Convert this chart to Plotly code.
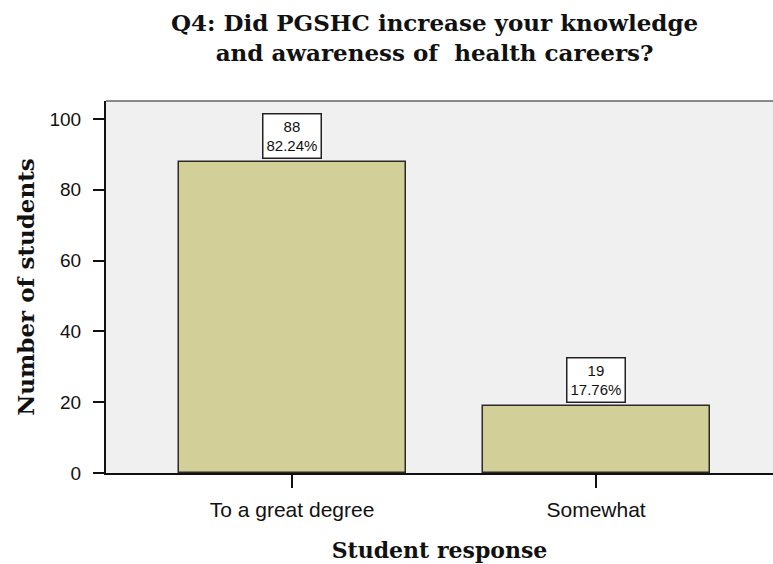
import plotly.graph_objects as go

categories = ["To a great degree", "Somewhat"]
counts = [88, 19]
percents = ["82.24%", "17.76%"]
title_text = "Q4: Did PGSHC increase your knowledge<br>and awareness of  health careers?"

fig = go.Figure()
fig.add_trace(go.Bar(
    x=[0, 1], y=counts, width=0.747,
    marker=dict(color="#d3cf98", line=dict(color="#2a2a2a", width=1.5)),
    hoverinfo="skip",
))

for i, (c, p) in enumerate(zip(counts, percents)):
    fig.add_annotation(
        x=i, y=c, xref="x", yref="y",
        text=f"{c}<br>{p}", showarrow=False, yanchor="bottom", yshift=3,
        font=dict(family="Arial", size=15, color="#111"),
        bgcolor="white", bordercolor="#222", borderwidth=1.5, borderpad=3,
        align="center",
    )

serif = "DejaVu Serif"

fig.add_annotation(
    text=title_text, xref="paper", yref="paper", x=0.493, y=1.172,
    xanchor="center", yanchor="middle", showarrow=False, align="center",
    font=dict(family=serif, size=23, color="#111", weight="bold"),
)

fig.update_layout(
    width=773, height=564,
    margin=dict(l=106, r=0, t=101, b=91),
    paper_bgcolor="white", plot_bgcolor="#f0f0f0",
    showlegend=False,
    bargap=0,
    xaxis=dict(
        tickmode="array", tickvals=[0, 1], ticktext=categories,
        range=[-0.612, 1.582],
        showline=True, linecolor="#111", linewidth=2,
        ticks="outside", ticklen=13, tickwidth=1.5, tickcolor="#111",
        ticklabelstandoff=4,
        tickfont=dict(family="Arial", size=21, color="#111"),
        showgrid=False, zeroline=False, fixedrange=True,
        title=dict(text="Student response", standoff=22,
                   font=dict(family=serif, size=22, color="#111", weight="bold")),
    ),
    yaxis=dict(
        range=[0, 105.1], tickvals=[0, 20, 40, 60, 80, 100],
        showline=True, linecolor="#111", linewidth=2,
        ticks="outside", ticklen=11, tickwidth=1.5, tickcolor="#111",
        ticklabelstandoff=8,
        tickfont=dict(family="Arial", size=19, color="#111"),
        showgrid=False, zeroline=False, fixedrange=True,
        title=dict(text="Number of students", standoff=8,
                   font=dict(family=serif, size=23, color="#111", weight="bold")),
    ),
)

fig.add_shape(type="line", xref="paper", yref="paper", x0=0, x1=1, y0=1, y1=1,
              line=dict(color="#888", width=2))

fig.write_html("out.html")
